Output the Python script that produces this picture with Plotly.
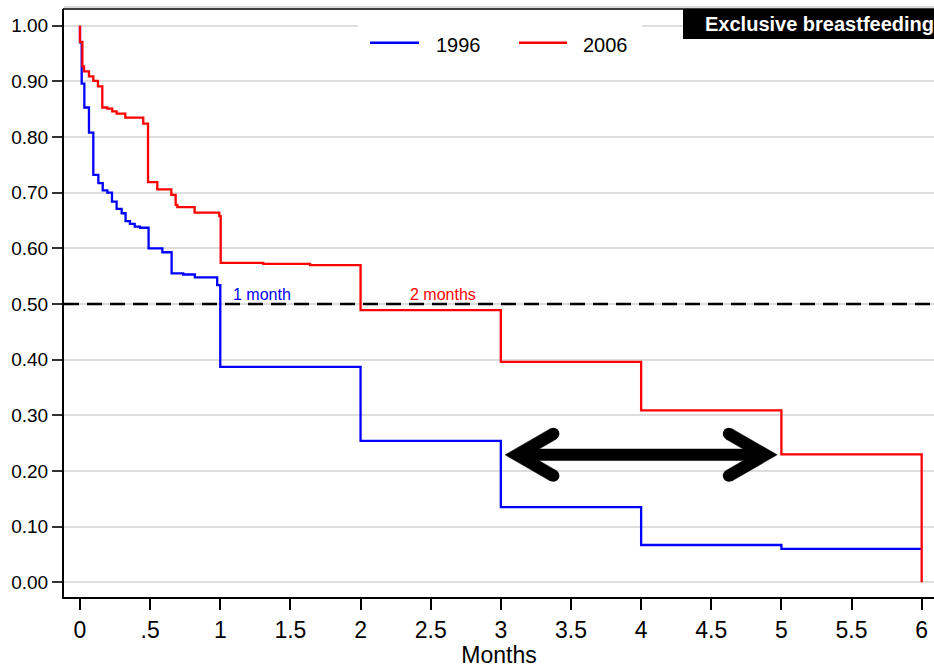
import math
import plotly.graph_objects as go

# ---------------- data ----------------
blue_t = [0, 0, 0.012, 0.031, 0.064, 0.095, 0.131, 0.162, 0.195, 0.228, 0.261, 0.297,
          0.325, 0.356, 0.390, 0.428, 0.489, 0.587, 0.653, 0.736, 0.819, 0.978, 1.0,
          2.0, 3.0, 4.0, 5.0, 6.0]
blue_s = [1.00, 0.97, 0.896, 0.853, 0.808, 0.732, 0.717, 0.704, 0.700, 0.684, 0.671, 0.663,
          0.649, 0.644, 0.639, 0.637, 0.600, 0.593, 0.555, 0.553, 0.548, 0.534, 0.387,
          0.254, 0.135, 0.067, 0.060, 0.060]

red_t = [0, 0, 0.017, 0.029, 0.064, 0.095, 0.128, 0.159, 0.195, 0.230, 0.261, 0.323,
         0.451, 0.485, 0.551, 0.651, 0.682, 0.694, 0.817, 0.993, 1.003, 1.306, 1.64,
         2.0, 3.0, 4.0, 5.0, 6.0]
red_s = [1.00, 0.971, 0.927, 0.918, 0.909, 0.901, 0.891, 0.853, 0.851, 0.846, 0.842, 0.835,
         0.824, 0.719, 0.706, 0.696, 0.678, 0.674, 0.664, 0.658, 0.574, 0.572, 0.570,
         0.489, 0.396, 0.309, 0.230, 0.0]

series_names = ["1996", "2006"]
series_colors = ["#0000ff", "#ff0000"]

x_tickvals = [0, 0.5, 1, 1.5, 2, 2.5, 3, 3.5, 4, 4.5, 5, 5.5, 6]
x_ticktext = ["0", ".5", "1", "1.5", "2", "2.5", "3", "3.5", "4", "4.5", "5", "5.5", "6"]
y_tickvals = [0.0, 0.1, 0.2, 0.3, 0.4, 0.5, 0.6, 0.7, 0.8, 0.9, 1.0]
y_ticktext = ["0.00", "0.10", "0.20", "0.30", "0.40", "0.50", "0.60", "0.70", "0.80", "0.90", "1.00"]

median_level = 0.5
median_labels = ["1 month", "2 months"]
median_label_x = [1.076, 2.338]
median_label_y = 0.517

arrow_x = [3.03, 4.97]
arrow_y = 0.229

panel_title = "Exclusive breastfeeding"
x_title = "Months"

# ---------------- layout geometry ----------------
W, H = 934, 668
ML, MR, MT, MB = 64, 0, 9, 71
PW, PH = W - ML - MR, H - MT - MB
x_range = [-0.114, 6.0878]
y_range = [-0.0264, 1.030]
kx = PW / (x_range[1] - x_range[0])
ky = PH / (y_range[1] - y_range[0])
FONT = "Liberation Sans, Arial, sans-serif"


def pxx(px):
    return (px - ML) / PW


def pxy(py):
    return (H - MB - py) / PH


fig = go.Figure()

# dashed median reference line (drawn first, above gridlines, below curves)
fig.add_trace(go.Scatter(x=x_range, y=[median_level, median_level], mode="lines",
                         line=dict(color="black", width=2.5, dash="15px,8px"),
                         showlegend=False, hoverinfo="skip"))

for t, s, name, col in [(blue_t, blue_s, series_names[0], series_colors[0]),
                        (red_t, red_s, series_names[1], series_colors[1])]:
    fig.add_trace(go.Scatter(x=t, y=s, mode="lines", line=dict(color=col, width=2.3, shape="hv"),
                             name=name, showlegend=False, hoverinfo="skip"))

# ---- double-headed arrow ----
w = 6.0
th = math.radians(30)
L = 42.0


def head(tx, ty, d):
    cx = w / math.sin(th)
    ix = 2 * cx
    b1 = (cx + L * math.cos(th), -L * math.sin(th))
    n = (-math.sin(th), -math.cos(th))
    b1o = (b1[0] + w * n[0], b1[1] + w * n[1])
    b1i = (b1[0] - w * n[0], b1[1] - w * n[1])
    pts = [(0, 0), b1o, b1i, (ix, 0), (b1i[0], -b1i[1]), (b1o[0], -b1o[1]), (0, 0)]
    xs = [tx + d * p[0] / kx for p in pts]
    ys = [ty - p[1] / ky for p in pts]
    caps_x = [tx + d * b1[0] / kx, tx + d * b1[0] / kx]
    caps_y = [ty - b1[1] / ky, ty + b1[1] / ky]
    return xs, ys, caps_x, caps_y


shaft_in = 12.0
fig.add_trace(go.Scatter(x=[arrow_x[0] + shaft_in / kx, arrow_x[1] - shaft_in / kx],
                         y=[arrow_y, arrow_y], mode="lines",
                         line=dict(color="black", width=12), showlegend=False, hoverinfo="skip"))
cx_all, cy_all = [], []
for tx, d in [(arrow_x[0], 1), (arrow_x[1], -1)]:
    xs, ys, cxs, cys = head(tx, arrow_y, d)
    fig.add_trace(go.Scatter(x=xs, y=ys, mode="lines", fill="toself", fillcolor="black",
                             line=dict(color="black", width=0.5), showlegend=False, hoverinfo="skip"))
    cx_all += cxs
    cy_all += cys
fig.add_trace(go.Scatter(x=cx_all, y=cy_all, mode="markers",
                         marker=dict(color="black", size=12, line=dict(width=0)),
                         showlegend=False, hoverinfo="skip"))

shapes = []
# top frame
shapes.append(dict(type="line", xref="paper", x0=0, x1=1, yref="paper", y0=1 + 2.0 / PH, y1=1 + 2.0 / PH,
                   line=dict(color="#b4b4b4", width=1), layer="above"))
shapes.append(dict(type="line", xref="paper", x0=-1.0 / PW, x1=1, yref="paper", y0=1, y1=1,
                   line=dict(color="black", width=1.5), layer="above"))
# legend background
shapes.append(dict(type="rect", xref="paper", yref="paper", x0=pxx(358), x1=pxx(642),
                   y0=pxy(70), y1=pxy(12), fillcolor="white", line=dict(width=0), layer="above"))
leg_line_x = [(370, 419), (519, 567)]
leg_text_x = [435, 582]
leg_y = 42.7
annotations = []
for i in range(2):
    shapes.append(dict(type="line", xref="paper", yref="paper", x0=pxx(leg_line_x[i][0]),
                       x1=pxx(leg_line_x[i][1]), y0=pxy(leg_y), y1=pxy(leg_y),
                       line=dict(color=series_colors[i], width=2.5), layer="above"))
    annotations.append(dict(text=series_names[i], xref="paper", yref="paper", x=pxx(leg_text_x[i] - 1),
                            y=pxy(44.5), xanchor="left", yanchor="middle", showarrow=False,
                            font=dict(family=FONT, size=20, color="black")))

# median labels
for i in range(2):
    annotations.append(dict(text=median_labels[i], x=median_label_x[i], y=median_label_y,
                            xanchor="left", yanchor="middle", showarrow=False,
                            font=dict(family=FONT, size=16, color=series_colors[i])))

# panel title box
annotations.append(dict(text="<b>" + panel_title + "</b>", xref="paper", yref="paper", x=1, y=1,
                        xanchor="right", yanchor="top", showarrow=False, bgcolor="black",
                        width=251, height=30, align="right", borderpad=0, borderwidth=0,
                        font=dict(family=FONT, size=20, color="white")))

fig.update_layout(
    width=W, height=H,
    margin=dict(l=ML, r=MR, t=MT, b=MB, pad=0),
    paper_bgcolor="white", plot_bgcolor="white",
    showlegend=False,
    shapes=shapes,
    annotations=annotations,
    xaxis=dict(range=x_range, tickvals=x_tickvals, ticktext=x_ticktext, showgrid=False,
               zeroline=False, showline=True, linecolor="black", linewidth=2,
               ticks="outside", ticklen=11, tickwidth=1.5, tickcolor="black",
               tickfont=dict(family=FONT, size=23, color="black"),
               title=dict(text=x_title, font=dict(family=FONT, size=23, color="black"), standoff=4)),
    yaxis=dict(range=y_range, tickvals=y_tickvals, ticktext=y_ticktext, showgrid=True,
               gridcolor="#dedede", gridwidth=2, zeroline=False, showline=True,
               linecolor="black", linewidth=2, ticks="outside", ticklen=10, tickwidth=2,
               tickcolor="#333333", tickfont=dict(family=FONT, size=19, color="black")),
)

fig.write_html("out.html", config={"displayModeBar": False},
               post_script="document.body.style.margin='0';document.body.style.overflow='hidden';")
